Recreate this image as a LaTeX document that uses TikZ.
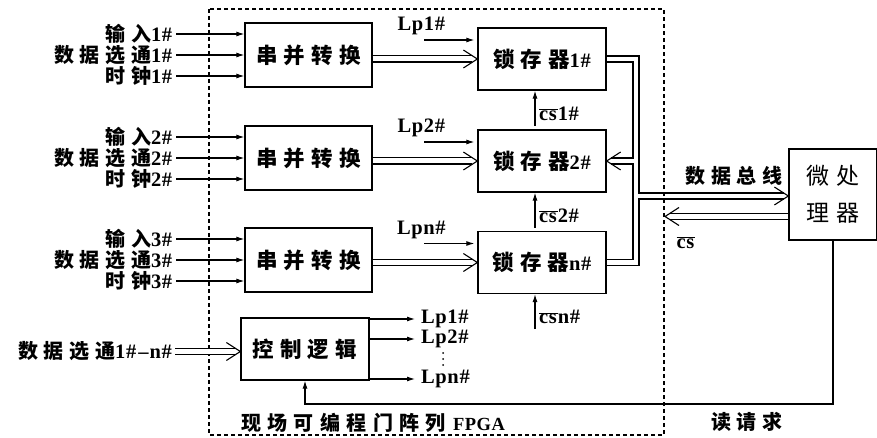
\documentclass[tikz,border=0pt]{standalone}
\usepackage{fontspec}
\setmainfont{Liberation Serif}[LetterSpace=3]
\usetikzlibrary{arrows.meta,calc}
\newfontfamily\cjk[LetterSpace=28]{Noto Sans CJK SC}
\newcommand\zh[2][20]{{\cjk\fontsize{#1}{#1}\selectfont #2}}
\newcommand\zhc[2][21.5]{{\cjk\fontsize{#1}{#1}\selectfont #2\hspace{-0.28em}}}
\newcommand\csbar{$\overline{\hbox{cs\kern1pt}}$}
\begin{document}
\begin{tikzpicture}[x=1pt,y=-1pt,
  every node/.style={font=\fontsize{20.5}{24}\selectfont\bfseries, inner sep=1pt},
  box/.style={draw, line width=1.3pt, minimum width=127pt, minimum height=64pt, inner sep=0pt},
  ln/.style={line width=1.1pt},
  arr/.style={line width=1.1pt, -{Latex[length=8pt,width=5pt]}},
  dbl/.style={line width=1.1pt, double, double distance=5pt, shorten >=5pt},
  chev/.style={line width=1.1pt, line join=miter},
]
\useasboundingbox (0,0) rectangle (877,438);
% FPGA frame
\draw[line width=1.1pt, dash pattern=on 4pt off 3pt] (209,9) rectangle (664,435);
\node[anchor=west] (fl) at (240,423) {\zh{\addfontfeature{LetterSpace=32}现场可编程门阵列}\hspace{7pt}{\fontsize{18.5}{20}\selectfont FPGA}};
% serial-parallel boxes
\node[box] (S1) at (308.5,55) {\zhc{串并转换}};
\node[box] (S2) at (308.5,158) {\zhc{串并转换}};
\node[box] (S3) at (308.5,260) {\zhc{串并转换}};
% latches
\node[box, minimum width=128pt, minimum height=62pt] (L1) at (542,59) {\zh[21.5]{锁存器}1\#};
\node[box, minimum width=128pt, minimum height=62pt] (L2) at (542,161) {\zh[21.5]{锁存器}2\#};
\node[box, minimum width=128pt, minimum height=62pt] (L3) at (542,262.5) {\zh[21.5]{锁存器}n\#};
% control logic
\node[box, minimum width=128pt, minimum height=62pt] (CL) at (305,349) {\zhc{控制逻辑}};
% microprocessor
\node[box, minimum width=88pt, minimum height=91pt, align=center, font=\fontsize{23}{37}\selectfont] (MP) at (833,194.5) {\zhc[23]{微处}\\\zhc[23]{理器}};
% inputs
\foreach \k in {1,2,3}{
  \node[anchor=east] (ia\k) at ([xshift=-71pt,yshift=21pt]S\k.west) {\zh{输入}\k\#};
  \node[anchor=east] (ib\k) at ([xshift=-71pt]S\k.west) {\zh{数据选通}\k\#};
  \node[anchor=east] (ic\k) at ([xshift=-71pt,yshift=-21pt]S\k.west) {\zh{时钟}\k\#};
  \draw[arr] ([xshift=3pt]ia\k.east) -- (S\k.west |- ia\k.east);
  \draw[arr] ([xshift=3pt]ib\k.east) -- (S\k.west |- ib\k.east);
  \draw[arr] ([xshift=3pt]ic\k.east) -- (S\k.west |- ic\k.east);
  \draw[dbl] (S\k.east |- L\k.west) -- (L\k.west);
  \draw[chev] (L\k.west) ++(-14,-9) -- (L\k.west) -- ++(-14,9);
}
\foreach \k/\t in {1/1,2/2,3/n}{
  \node (lp\k) at ([xshift=-56pt,yshift=33pt]L\k.west) {Lp\t\#};
  \draw[arr] ([xshift=-53pt,yshift=19pt]L\k.west) -- ([xshift=-3pt,yshift=19pt]L\k.west);
  \draw[arr] ([xshift=-7pt,yshift=-35pt]L\k.south) -- ([xshift=-7pt]L\k.south);
  \node[anchor=west] (cs\k) at ([xshift=-4pt,yshift=-23pt]L\k.south) {\csbar\t\#};
}
% bus
\coordinate (mpTip) at (MP.west |- 0,196);
\draw[ln] ([yshift=3pt]L1.east) -| (639,193) -- ([xshift=-4pt,yshift=3pt]mpTip);
\draw[ln] ([yshift=-3pt]L1.east) -| (633,158) -- ([xshift=4pt,yshift=3pt]L2.east);
\draw[ln] ([xshift=4pt,yshift=-3pt]L2.east) -- (633,164) |- ([yshift=3pt]L3.east);
\draw[ln] ([yshift=-3pt]L3.east) -| (639,199) -- ([xshift=-4pt,yshift=-3pt]mpTip);
\draw[chev] (mpTip) ++(-14,-9) -- (mpTip) -- ++(-14,9);
\draw[chev] (L2.east) ++(14,-9) -- (L2.east) -- ++(14,9);
\node (busl) at (734,176) {\zhc[20]{数据总线}};
% cs from microprocessor
\coordinate (csTip) at (665,216.5);
\draw[dbl] (MP.west |- csTip) -- (csTip);
\draw[chev] (csTip) ++(14,-9) -- (csTip) -- ++(14,9);
\node (csl) at (686,243) {\csbar};
% read request
\coordinate (rr) at (0,404);
\draw[arr] (MP.south) |- (CL.south |- rr) -- (CL.south);
\node (rq) at (747,422) {\zhc[20]{读请求}};
% control logic input and outputs
\node[anchor=east] (inall) at (173,351.5) {\zh{数据选通}1\#{\kern2pt}–{\kern1pt}n\#};
\draw[dbl] ([xshift=2pt]inall.east) -- (CL.west |- inall.east);
\draw[chev] (CL.west |- inall.east) ++(-14,-9) -- (CL.west |- inall.east) -- ++(-14,9);
\node[anchor=west] (o1) at (420,319) {Lp1\#};
\node[anchor=west] (o2) at (420,339) {Lp2\#};
\node[anchor=west] (o3) at (420,379) {Lpn\#};
\draw[arr] (CL.east |- o1) -- ([xshift=-5pt]o1.west);
\draw[arr] (CL.east |- o2) -- ([xshift=-5pt]o2.west);
\draw[arr] (CL.east |- o3) -- ([xshift=-5pt]o3.west);
\foreach \yy in {353,359,365} \fill (443,\yy) circle (1pt);
\end{tikzpicture}
\end{document}
